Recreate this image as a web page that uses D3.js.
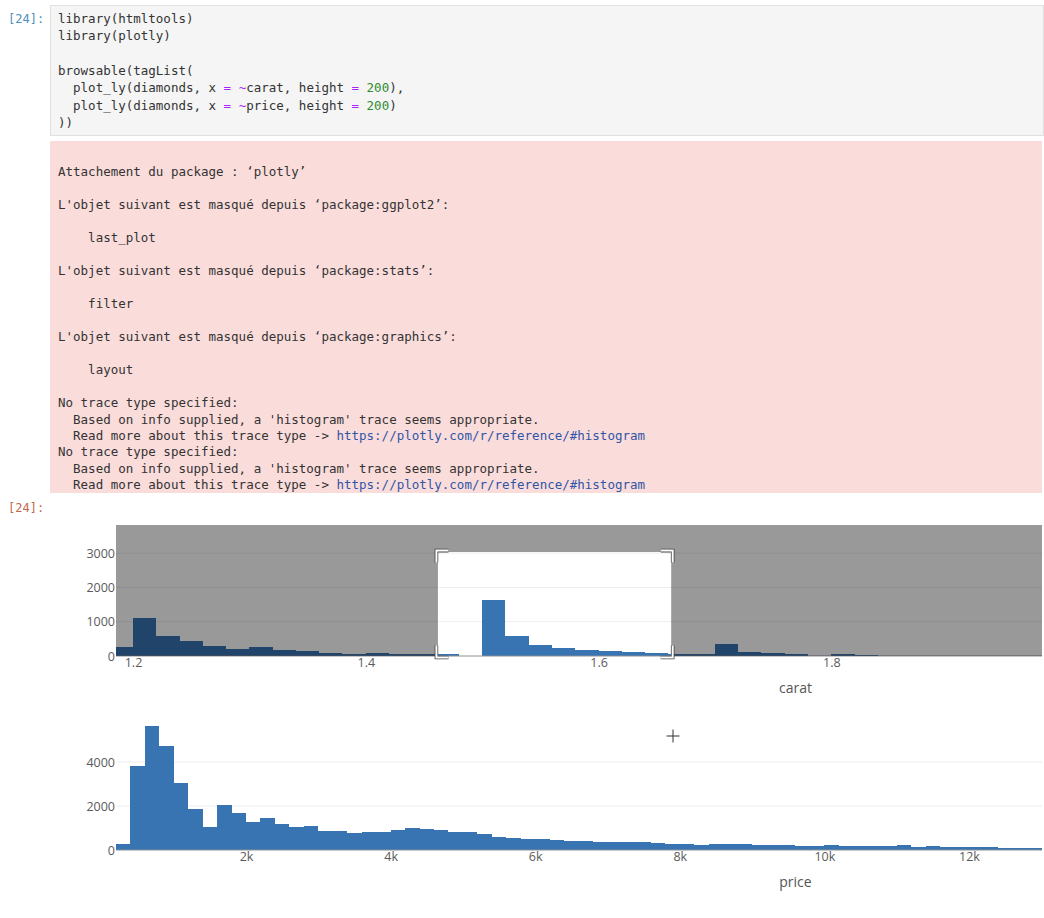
<!DOCTYPE html>
<html lang="en">
<head>
    <meta charset="UTF-8">
    <title>Notebook histograms</title>
    <script src="https://d3js.org/d3.v7.min.js"></script>
    <style>
        html, body { margin: 0; padding: 0; background: #fff; overflow: hidden; }
        .mono { font-family: "DejaVu Sans Mono", monospace; font-size: 12.5px; fill: #333; }
        .axis text { font-family: "Open Sans", sans-serif; font-size: 12.5px; fill: #5a5a5a; }
        .axis-title { font-family: "Open Sans", sans-serif; font-size: 14px; fill: #555; text-anchor: middle; }
    </style>
</head>
<body>
    <script>
        // Notebook text
        const codeLines = [
            "library(htmltools)",
            "library(plotly)",
            "",
            "browsable(tagList(",
            "  plot_ly(diamonds, x = ~carat, height = 200),",
            "  plot_ly(diamonds, x = ~price, height = 200)",
            "))"
        ];
        const stderrLines = [
            "",
            "Attachement du package : ‘plotly’",
            "",
            "L'objet suivant est masqué depuis ‘package:ggplot2’:",
            "",
            "    last_plot",
            "",
            "L'objet suivant est masqué depuis ‘package:stats’:",
            "",
            "    filter",
            "",
            "L'objet suivant est masqué depuis ‘package:graphics’:",
            "",
            "    layout",
            "",
            "No trace type specified:",
            "  Based on info supplied, a 'histogram' trace seems appropriate.",
            "  Read more about this trace type -> https://plotly.com/r/reference/#histogram",
            "No trace type specified:",
            "  Based on info supplied, a 'histogram' trace seems appropriate.",
            "  Read more about this trace type -> https://plotly.com/r/reference/#histogram"
        ];

        // Carat histogram
        const caratBins = [1.18, 1.20, 1.22, 1.24, 1.26, 1.28, 1.30, 1.32, 1.34, 1.36, 1.38, 1.40, 1.42, 1.44, 1.46, 1.48,
            1.50, 1.52, 1.54, 1.56, 1.58, 1.60, 1.62, 1.64, 1.66, 1.68, 1.70, 1.72, 1.74, 1.76, 1.78, 1.80, 1.82, 1.84,
            1.86, 1.88, 1.90, 1.92, 1.94, 1.96, 1.98];
        const caratCounts = [250, 1100, 570, 425, 290, 195, 250, 175, 145, 90, 55, 85, 55, 55, 45, 5,
            1620, 590, 310, 225, 165, 160, 110, 75, 50, 50, 340, 110, 80, 50, 5, 45, 40, 5,
            4, 4, 3, 3, 3, 3, 3];
        const caratTicks = [1.2, 1.4, 1.6, 1.8];
        const caratYTicks = [0, 1000, 2000, 3000];
        const selectionX = [1.462, 1.6624];
        const selectionTop = 3030;

        // Price histogram
        const priceBins = [200, 400, 600, 800, 1000, 1200, 1400, 1600, 1800, 2000, 2200, 2400, 2600, 2800, 3000, 3200,
            3400, 3600, 3800, 4000, 4200, 4400, 4600, 4800, 5000, 5200, 5400, 5600, 5800, 6000, 6200, 6400,
            6600, 6800, 7000, 7200, 7400, 7600, 7800, 8000, 8200, 8400, 8600, 8800, 9000, 9200, 9400, 9600,
            9800, 10000, 10200, 10400, 10600, 10800, 11000, 11200, 11400, 11600, 11800, 12000, 12200, 12400, 12600, 12800, 13000];
        const priceCounts = [273, 3830, 5650, 4710, 3030, 1850, 1060, 2030, 1670, 1270, 1455, 1180, 1045, 1090, 880, 880,
            790, 830, 830, 925, 1000, 970, 925, 800, 800, 710, 605, 560, 515, 515, 470, 425,
            425, 350, 350, 350, 350, 300, 275, 275, 210, 255, 255, 255, 215, 215, 215, 165,
            165, 215, 170, 170, 165, 165, 215, 120, 170, 125, 120, 115, 115, 110, 110, 105, 105];
        const priceTicks = [2000, 4000, 6000, 8000, 10000, 12000];
        const priceYTicks = [0, 2000, 4000];

        const width = 1044;
        const height = 918;
        const barColor = "#3874b1";

        const svg = d3.select("body")
            .append("svg")
            .attr("width", width)
            .attr("height", height)
            .style("display", "block");

        // Cell backgrounds
        svg.append("rect").attr("x", 50.5).attr("y", 5.5).attr("width", 993).attr("height", 130)
            .attr("fill", "#f5f5f5").attr("stroke", "#e0e0e0");
        svg.append("rect").attr("x", 50).attr("y", 141).attr("width", 992).attr("height", 352)
            .attr("fill", "#fadcdb");

        // Prompts
        svg.append("text").attr("class", "mono").attr("x", 8).attr("y", 23)
            .style("fill", "#4f8fc0").style("font-size", "12px").text("[24]:");
        svg.append("text").attr("class", "mono").attr("x", 8).attr("y", 512)
            .style("fill", "#c0694a").style("font-size", "12px").text("[24]:");

        // Colour the code tokens the way the notebook does
        function addCodeLine(sel, line) {
            line.split(/(=|~|\b200\b)/).forEach(part => {
                const t = sel.append("tspan").text(part);
                if (part === "=" || part === "~") t.style("fill", "#aa22ff");
                if (part === "200") t.style("fill", "#2e8b2e");
            });
        }

        svg.append("g").selectAll("text")
            .data(codeLines)
            .enter()
            .append("text")
            .attr("class", "mono")
            .style("white-space", "pre")
            .attr("x", 58)
            .attr("y", (d, i) => 22.5 + i * 17.4)
            .each(function(d) { addCodeLine(d3.select(this), d); });

        svg.append("g").selectAll("text")
            .data(stderrLines)
            .enter()
            .append("text")
            .attr("class", "mono")
            .style("white-space", "pre")
            .attr("x", 58)
            .attr("y", (d, i) => 160 + i * 16.47)
            .each(function(d) {
                const sel = d3.select(this);
                d.split(/(https:\S+)/).forEach(part => {
                    const t = sel.append("tspan").text(part);
                    if (part.startsWith("https:")) t.style("fill", "#2f55a8");
                });
            });

        // One histogram panel, built from its bins and counts
        function drawHistogram(cfg) {
            const x = d3.scaleLinear().domain(cfg.xDomain).range([116, 1042]);
            const y = d3.scaleLinear().domain([0, cfg.yMax]).range([cfg.bottom, cfg.top]);
            const rows = cfg.bins.map((b, i) => ({ start: b, count: cfg.counts[i] }));
            const g = svg.append("g");

            g.append("clipPath").attr("id", cfg.id)
                .append("rect")
                .attr("x", 116).attr("y", cfg.top)
                .attr("width", 926).attr("height", cfg.bottom - cfg.top);

            // Gridlines
            g.append("g").selectAll("line")
                .data(cfg.yTicks.filter(d => d > 0))
                .enter()
                .append("line")
                .attr("x1", 116).attr("x2", 1042)
                .attr("y1", d => y(d)).attr("y2", d => y(d))
                .attr("stroke", "#eeeeee");

            // Bars
            g.append("g").attr("clip-path", `url(#${cfg.id})`)
                .selectAll("rect")
                .data(rows)
                .enter()
                .append("rect")
                .attr("x", d => x(d.start))
                .attr("width", d => x(d.start + cfg.binSize) - x(d.start))
                .attr("y", d => y(d.count))
                .attr("height", d => y(0) - y(d.count))
                .attr("fill", barColor)
                .attr("shape-rendering", "crispEdges");

            // Zero line
            g.append("line")
                .attr("x1", 116).attr("x2", 1042)
                .attr("y1", y(0)).attr("y2", y(0))
                .attr("stroke", "#8a8f96");

            const xAxis = g.append("g").attr("class", "axis")
                .attr("transform", `translate(0,${cfg.bottom})`)
                .call(d3.axisBottom(x).tickValues(cfg.xTicks).tickSize(0).tickPadding(2).tickFormat(cfg.xFormat));
            xAxis.select(".domain").remove();

            const yAxis = g.append("g").attr("class", "axis")
                .attr("transform", "translate(116,0)")
                .call(d3.axisLeft(y).tickValues(cfg.yTicks).tickSize(0).tickPadding(1).tickFormat(d3.format("d")));
            yAxis.select(".domain").remove();

            g.append("text").attr("class", "axis-title")
                .attr("x", 795.5).attr("y", cfg.bottom + cfg.titleDy)
                .text(cfg.title);

            return { g, x, y };
        }

        const carat = drawHistogram({
            id: "clip-carat", bins: caratBins, counts: caratCounts, binSize: 0.02,
            xDomain: [1.1854, 1.981], yMax: 3820, top: 525, bottom: 656,
            xTicks: caratTicks, yTicks: caratYTicks, xFormat: d3.format(".1f"),
            title: "carat", titleDy: 37
        });

        drawHistogram({
            id: "clip-price", bins: priceBins, counts: priceCounts, binSize: 200,
            xDomain: [202, 13010], yMax: 5640, top: 726, bottom: 850,
            xTicks: priceTicks, yTicks: priceYTicks, xFormat: d => (d / 1000) + "k",
            title: "price", titleDy: 37
        });

        // Box-select shade around the selected region of the carat panel
        const sx0 = carat.x(selectionX[0]);
        const sx1 = carat.x(selectionX[1]);
        const sy0 = carat.y(selectionTop);
        const sy1 = carat.y(0);
        carat.g.append("path")
            .attr("fill", "rgba(0,0,0,0.4)")
            .attr("fill-rule", "evenodd")
            .attr("d", `M116,525H1042V${sy1}H116Z M${sx0},${sy0}H${sx1}V${sy1}H${sx0}Z`);

        // Selection corners
        const cornerLen = 12;
        const corners = [
            [sx0, sy0, 1, 1], [sx1, sy0, -1, 1], [sx0, sy1, 1, -1], [sx1, sy1, -1, -1]
        ].map(([cx, cy, dx, dy]) => {
            const ox = cx - dx * 1.5;
            const oy = cy - dy * 1.5;
            return `M${ox + dx * cornerLen},${oy}H${ox}V${oy + dy * cornerLen}`;
        });
        corners.forEach(d => {
            carat.g.append("path").attr("d", d).attr("fill", "none")
                .attr("stroke", "#444").attr("stroke-width", 3.6);
            carat.g.append("path").attr("d", d).attr("fill", "none")
                .attr("stroke", "#fff").attr("stroke-width", 2);
        });

        // Mouse crosshair left in the screenshot
        svg.append("path")
            .attr("d", "M666.5,736H679.5M673,729.5V742.5")
            .attr("stroke", "#333").attr("fill", "none");
    </script>
</body>
</html>
